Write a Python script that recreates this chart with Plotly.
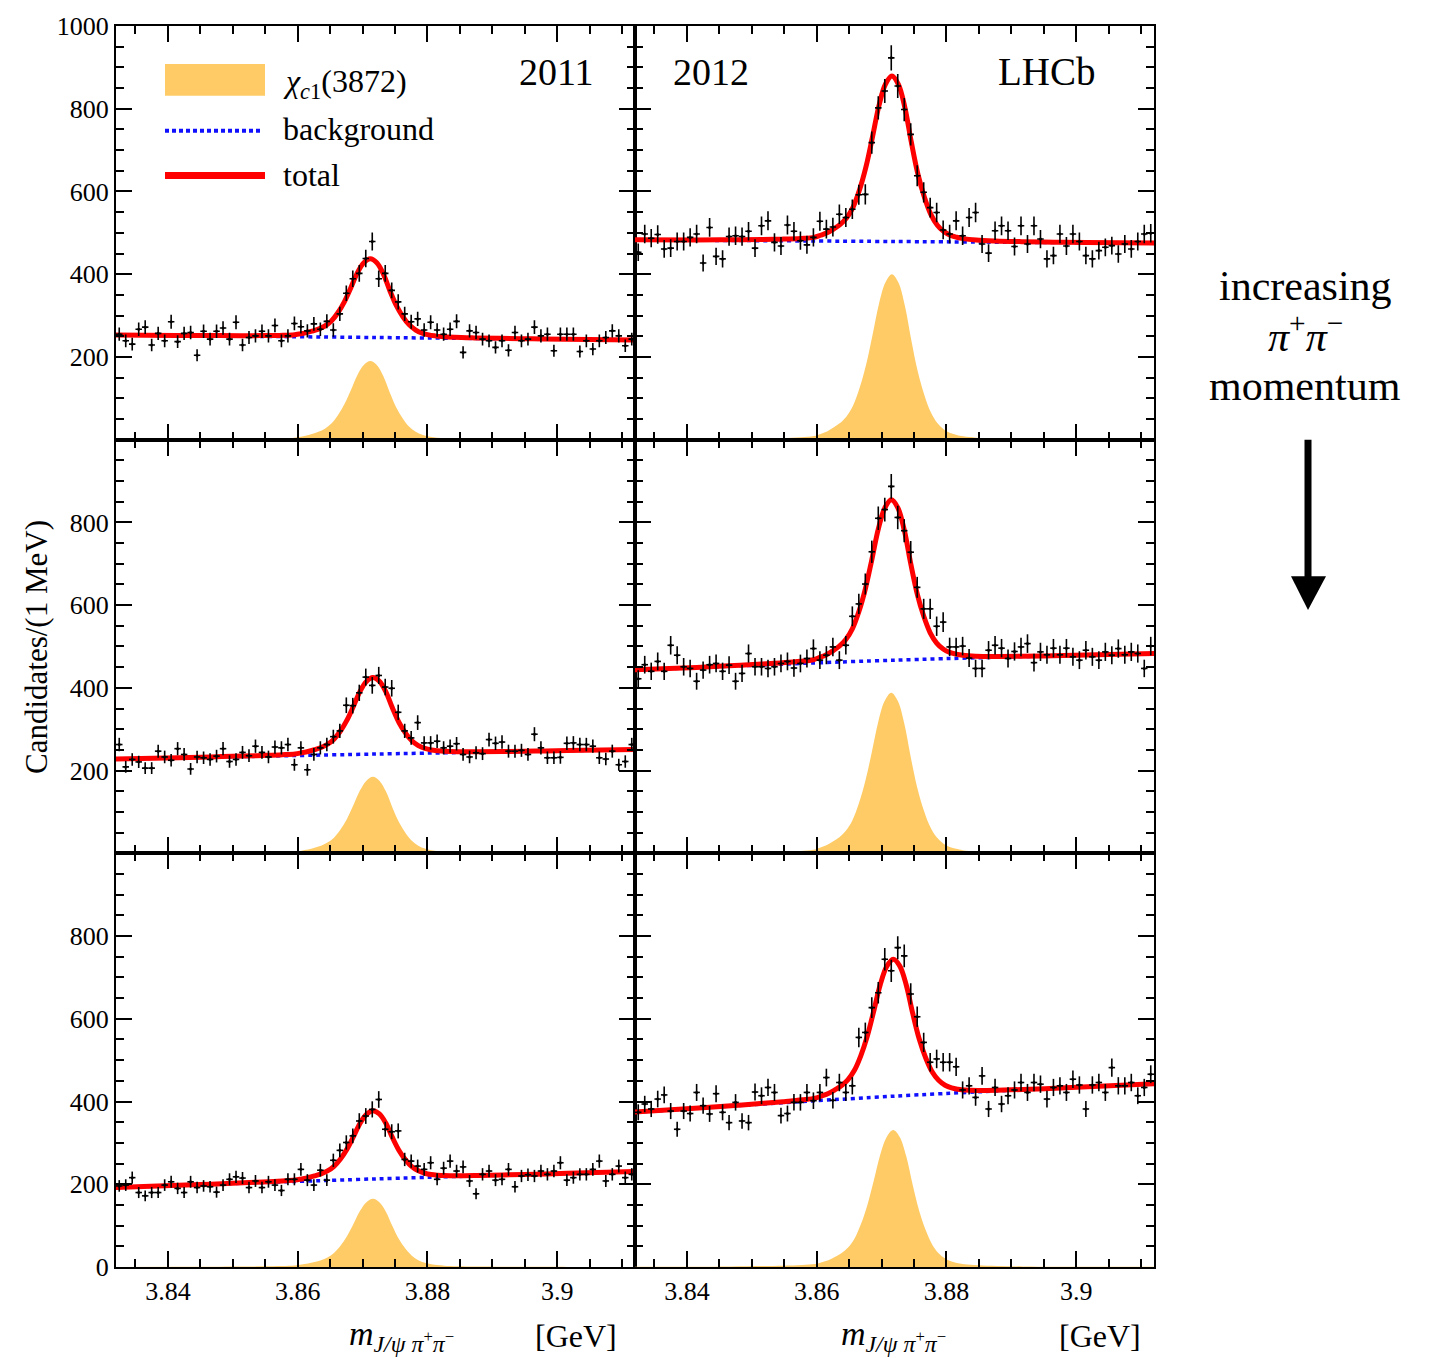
import numpy as np
import plotly.graph_objects as go
from plotly.subplots import make_subplots

# ---------------- data ----------------
n_bins = 80
bin_lo = 3.832
bin_w = 0.001
bin_centers = np.round(bin_lo + bin_w * (np.arange(n_bins) + 0.5), 4)

counts_2011_low = [255,239,231,267,272,229,257,239,285,237,
                   257,259,204,262,243,262,270,243,284,229,
                   247,251,262,251,276,239,251,281,273,263,
                   280,267,286,265,304,354,389,402,438,479,
                   389,402,361,333,304,285,292,265,284,265,
                   255,267,286,211,263,259,243,239,223,239,
                   216,259,239,243,272,251,255,215,255,255,
                   255,213,239,219,239,247,263,251,227,243]
counts_2012_low = [453,497,487,496,461,463,479,479,489,497,
                   427,513,443,437,491,493,491,504,463,517,
                   529,477,468,519,504,481,471,489,528,509,
                   514,545,537,557,592,593,718,802,843,923,
                   855,798,738,638,598,561,549,507,497,529,
                   493,537,549,473,451,505,517,505,467,517,
                   473,517,485,437,445,497,468,497,479,445,
                   437,457,465,469,449,473,461,479,497,499]
counts_2011_mid = [263,209,227,221,206,206,247,233,225,253,
                   239,204,233,231,227,235,253,222,227,244,
                   236,259,244,233,257,255,263,214,255,202,
                   239,255,263,282,296,358,357,388,426,406,
                   430,402,399,341,296,279,316,267,267,271,
                   255,259,265,239,233,243,241,275,266,269,
                   247,247,249,239,288,255,231,231,232,266,
                   267,263,263,259,231,228,247,214,222,263]
counts_2012_mid = [422,456,440,464,440,503,479,451,447,416,
                   443,456,459,440,455,416,435,483,451,451,
                   447,451,459,464,448,459,471,495,467,479,
                   499,467,503,573,603,651,729,810,831,887,
                   812,780,728,643,591,591,549,559,499,499,
                   501,472,447,447,491,503,496,471,488,499,
                   507,461,487,480,496,480,496,475,467,491,
                   475,467,487,479,495,480,487,483,447,501]
counts_2011_high = [196,198,216,180,172,180,180,198,206,190,
                    180,206,192,196,194,181,198,212,218,215,
                    192,208,192,206,198,185,212,212,236,210,
                    198,234,210,258,282,301,317,353,365,381,
                    405,333,327,329,260,256,244,236,252,212,
                    239,256,232,242,208,177,224,232,210,212,
                    236,194,220,223,220,232,224,232,252,210,
                    216,224,224,236,256,208,224,244,216,224]
counts_2012_high = [374,394,382,406,416,377,333,377,371,422,
                    390,370,419,374,349,398,353,349,423,414,
                    434,422,366,371,398,398,422,402,422,458,
                    403,446,422,438,555,567,627,663,744,716,
                    772,752,660,605,543,495,503,495,495,484,
                    428,438,410,462,382,434,394,414,428,446,
                    422,446,442,406,434,438,422,454,440,382,
                    440,446,422,482,438,438,446,414,434,466]

# background fit read at left edge, centre, right edge
bg_x = [3.832, 3.872, 3.912]
bg_2011_low = [253, 247, 241]
bg_2012_low = [483, 479, 475]
bg_2011_mid = [228, 240, 251]
bg_2012_mid = [443, 467, 483]
bg_2011_high = [192, 213, 231]
bg_2012_high = [374, 413, 443]

# signal shape (offset from peak in MeV, relative height)
sig_offset_mev = [-40,-30,-25,-20,-17,-14,-12,-11,-10,-9,-8,-7,-6,-5,-4,-3,-2,-1,0,
                  1,2,3,4,5,6,7,8,9,10,11,13,16,20,25,30,41]
sig_rel = [0.001,0.002,0.004,0.007,0.010,0.015,0.022,0.035,0.05,0.073,0.10,0.14,0.205,
           0.31,0.45,0.63,0.82,0.95,1.0,
           0.95,0.81,0.60,0.41,0.27,0.165,0.10,0.062,0.04,0.028,0.02,0.012,0.007,
           0.004,0.002,0.0015,0.001]

peak_mass = [3.8712, 3.8716, 3.8716, 3.8715, 3.8716, 3.8718]
peak_height = [190, 400, 185, 388, 165, 331]

panel_counts = [counts_2011_low, counts_2012_low, counts_2011_mid,
                counts_2012_mid, counts_2011_high, counts_2012_high]
panel_bg = [bg_2011_low, bg_2012_low, bg_2011_mid, bg_2012_mid,
            bg_2011_high, bg_2012_high]

x_tickvals = [3.84, 3.86, 3.88, 3.90]
x_ticktext = ["3.84", "3.86", "3.88", "3.9"]

# ---------------- figure ----------------
W, H = 1433, 1358
L, R, T, B = 116, 1154, 22, 1267
fig = make_subplots(rows=3, cols=2, horizontal_spacing=0, vertical_spacing=0)

FONT = "Liberation Serif"
SIG_COLOR = "#FECB66"

for k in range(6):
    row, col = k // 2 + 1, k % 2 + 1
    sx = np.round(peak_mass[k] + np.array(sig_offset_mev) * 0.001, 5)
    sy = peak_height[k] * np.array(sig_rel)
    bgy = np.interp(sx, bg_x, panel_bg[k])
    fig.add_trace(go.Scatter(x=sx, y=sy, mode="lines", line=dict(color=SIG_COLOR, width=0, shape="spline"),
                             fill="tozeroy", fillcolor=SIG_COLOR, showlegend=False, hoverinfo="skip"),
                  row=row, col=col)
    fig.add_trace(go.Scatter(x=bg_x, y=panel_bg[k], mode="lines",
                             line=dict(color="#1010FF", width=3.5, dash="4px,4px", shape="spline"),
                             showlegend=False, hoverinfo="skip"), row=row, col=col)
    fig.add_trace(go.Scatter(x=sx, y=sy + bgy, mode="lines",
                             line=dict(color="#FF0000", width=5, shape="spline"),
                             showlegend=False, hoverinfo="skip"), row=row, col=col)
    c = np.array(panel_counts[k], dtype=float)
    fig.add_trace(go.Scatter(x=bin_centers, y=c, mode="markers",
                             marker=dict(color="black", size=3),
                             error_y=dict(type="data", array=np.sqrt(c), thickness=1.6, width=0, color="black"),
                             error_x=dict(type="constant", value=bin_w / 2, thickness=1.6, width=0, color="black"),
                             showlegend=False), row=row, col=col)

    xa = dict(range=[3.832, 3.912], showgrid=False, zeroline=False, showline=True, linecolor="black",
              linewidth=2, mirror="allticks", ticks="inside", ticklen=16, tickwidth=2, tickcolor="black",
              tickvals=x_tickvals, ticktext=x_ticktext,
              minor=dict(ticks="inside", ticklen=8, tickwidth=2, tickcolor="black", dtick=0.005, tick0=3.84,
                         showgrid=False),
              showticklabels=(row == 3),
              tickfont=dict(family=FONT, size=26, color="black"))
    if row == 1:
        yt = [200, 400, 600, 800, 1000]
    elif row == 2:
        yt = [200, 400, 600, 800]
    else:
        yt = [0, 200, 400, 600, 800]
    ya = dict(range=[0, 1000], showgrid=False, zeroline=False, showline=True, linecolor="black",
              linewidth=2, mirror="allticks", ticks="inside", ticklen=16, tickwidth=2, tickcolor="black",
              tickvals=yt, ticktext=[str(v) for v in yt],
              minor=dict(ticks="inside", ticklen=8, tickwidth=2, tickcolor="black", dtick=50, tick0=0,
                         showgrid=False),
              showticklabels=(col == 1),
              tickfont=dict(family=FONT, size=26, color="black"))
    fig.update_xaxes(xa, row=row, col=col)
    fig.update_yaxes(ya, row=row, col=col)

def px_paper(px, py):
    return (px - L) / (R - L), (B - py) / (B - T)

ann = []
shapes = []

# legend (top-left panel)
def dom(px, py):
    return (px - 116) / 519, (437 - py) / 415

x0, y0 = dom(165, 60); x1, y1 = dom(265, 92)
shapes.append(dict(type="rect", xref="x domain", yref="y domain", x0=x0, x1=x1, y0=y1, y1=y0,
                   fillcolor=SIG_COLOR, line=dict(width=0)))
x0, yb = dom(165, 127); x1, _ = dom(263, 127)
shapes.append(dict(type="line", xref="x domain", yref="y domain", x0=x0, x1=x1, y0=yb, y1=yb,
                   line=dict(color="#1010FF", width=4, dash="4px,3px")))
x0, yt_ = dom(165, 172); x1, _ = dom(265, 172)
shapes.append(dict(type="line", xref="x domain", yref="y domain", x0=x0, x1=x1, y0=yt_, y1=yt_,
                   line=dict(color="#FF0000", width=7)))
leg_texts = [("<i>χ</i><sub><i>c</i>1</sub>(3872)", 80), ("background", 125), ("total", 171)]
for txt, py in leg_texts:
    xx, yy = dom(281, py)
    ann.append(dict(text=txt, xref="x domain", yref="y domain", x=xx, y=yy, xanchor="left",
                    yanchor="middle", showarrow=False, font=dict(family=FONT, size=32, color="black")))

for txt, px, py, sz in [("2011", 556, 68, 38), ("2012", 711, 68, 38), ("LHCb", 1047, 68, 39)]:
    xx, yy = px_paper(px, py)
    ann.append(dict(text=txt, xref="paper", yref="paper", x=xx, y=yy, xanchor="center", yanchor="middle",
                    showarrow=False, font=dict(family=FONT, size=sz, color="black")))

# axis titles
xx, yy = px_paper(37, 645)
ann.append(dict(text="Candidates/(1 MeV)", xref="paper", yref="paper", x=xx, y=yy, textangle=-90,
                showarrow=False, xanchor="center", yanchor="middle",
                font=dict(family=FONT, size=31, color="black")))
mlabel = "<i>m</i><sub><i>J/ψ π</i><sup>+</sup><i>π</i><sup>−</sup></sub>"
for mx, gx in [(401, 576), (893, 1100)]:
    xx, yy = px_paper(mx, 1336)
    ann.append(dict(text=mlabel, xref="paper", yref="paper", x=xx, y=yy, showarrow=False,
                    xanchor="center", yanchor="middle", font=dict(family=FONT, size=34, color="black")))
    xx, yy = px_paper(gx, 1336)
    ann.append(dict(text="[GeV]", xref="paper", yref="paper", x=xx, y=yy, showarrow=False,
                    xanchor="center", yanchor="middle", font=dict(family=FONT, size=32, color="black")))

# right-hand annotation
for txt, py in [("increasing", 283), ("<i>π</i><sup>+</sup><i>π</i><sup>−</sup>", 330), ("momentum", 383)]:
    xx, yy = px_paper(1305, py)
    ann.append(dict(text=txt, xref="paper", yref="paper", x=xx, y=yy, showarrow=False,
                    xanchor="center", yanchor="middle", font=dict(family=FONT, size=42, color="black")))

ax0, ay0 = px_paper(1308, 437)
ax1, ay1 = px_paper(1308, 580)
shapes.append(dict(type="line", xref="paper", yref="paper", x0=ax0, x1=ax1, y0=ay0, y1=ay1,
                   line=dict(color="black", width=7)))
tlx, tly = px_paper(1291, 574)
trx, _ = px_paper(1326, 574)
tbx, tby = px_paper(1308, 608)
shapes.append(dict(type="path", xref="paper", yref="paper",
                   path=f"M {tlx} {tly} L {trx} {tly} L {tbx} {tby} Z",
                   fillcolor="black", line=dict(width=0)))

fig.update_layout(width=W, height=H, margin=dict(l=L, r=W - R, t=T, b=H - B, pad=0),
                  paper_bgcolor="white", plot_bgcolor="white", showlegend=False,
                  annotations=ann, shapes=shapes, font=dict(family=FONT, color="black"))

fig.write_html("out.html")
